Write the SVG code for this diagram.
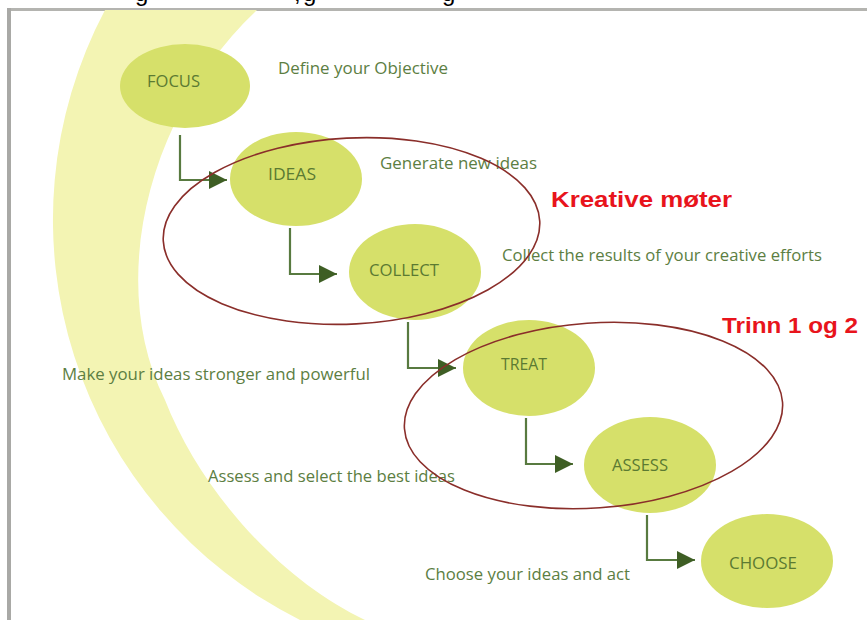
<svg xmlns="http://www.w3.org/2000/svg" width="867" height="620" viewBox="0 0 867 620">
  <style>
    .node-shape { fill: #d6e06a; }
    .node-label { font-family: "Open Sans", "Noto Sans", sans-serif; font-size: 16px; fill: #5b7a32; }
    .note { font-family: "Open Sans", "Noto Sans", sans-serif; font-size: 15.5px; fill: #5c7e42; }
    .tag { font-family: "Liberation Sans", Arial, sans-serif; font-size: 22px; font-weight: bold; fill: #e8141c; }
    .group-ring { fill: none; stroke: #8a2e2a; stroke-width: 1.6; }
    .link { fill: none; stroke: #587a40; stroke-width: 2.2; }
    .caption { font-family: "Liberation Sans", Arial, sans-serif; font-size: 24px; fill: #000; }
  </style>
  <defs>
    <marker id="head" viewBox="0 0 18 18" refX="18" refY="9" markerWidth="18" markerHeight="18" markerUnits="userSpaceOnUse" orient="auto">
      <path d="M0,0 L18,9 L0,18 Z" fill="#3e5e24"/>
    </marker>
    <clipPath id="frame">
      <rect x="11" y="10" width="856" height="610"/>
    </clipPath>
  </defs>

  <rect width="867" height="620" fill="#ffffff"/>

  <!-- descenders of the caption line above the figure -->
  <g id="caption-tail">
    <text class="caption" x="135" y="1">g</text>
    <text class="caption" x="294" y="1">,</text>
    <text class="caption" x="303" y="1">g</text>
    <text class="caption" x="442" y="1">g</text>
  </g>

  <!-- figure frame -->
  <g id="frame-border">
    <rect x="7" y="8" width="860" height="3" fill="#b4b4b0"/>
    <rect x="7" y="8" width="4" height="612" fill="#a9a9a6"/>
  </g>

  <!-- pale crescent swoosh -->
  <g id="swoosh" clip-path="url(#frame)">
    <path d="M105,10 A448,448 0 0 0 300,620 L365,620 C280,580 200,490 165,400 C105,280 150,110 257,10 Z" fill="#f3f4b3"/>
  </g>

  <!-- connectors -->
  <g id="connectors">
    <path class="link" d="M180,135 V180 H227" marker-end="url(#head)"/>
    <path class="link" d="M290,228 V274 H337" marker-end="url(#head)"/>
    <path class="link" d="M408,322 V368 H456" marker-end="url(#head)"/>
    <path class="link" d="M526,418 V464 H573" marker-end="url(#head)"/>
    <path class="link" d="M647,515 V560 H695" marker-end="url(#head)"/>
  </g>

  <!-- process steps -->
  <g id="focus">
    <ellipse class="node-shape" cx="185" cy="86" rx="65" ry="42"/>
    <text class="node-label" x="147" y="87" textLength="53" lengthAdjust="spacingAndGlyphs">FOCUS</text>
  </g>
  <g id="ideas">
    <ellipse class="node-shape" cx="296" cy="179" rx="66" ry="47"/>
    <text class="node-label" x="268" y="180" textLength="48" lengthAdjust="spacingAndGlyphs">IDEAS</text>
  </g>
  <g id="collect">
    <ellipse class="node-shape" cx="415" cy="272" rx="66" ry="48"/>
    <text class="node-label" x="369" y="276" textLength="70" lengthAdjust="spacingAndGlyphs">COLLECT</text>
  </g>
  <g id="treat">
    <ellipse class="node-shape" cx="529" cy="368" rx="66" ry="48"/>
    <text class="node-label" x="501" y="370" textLength="46" lengthAdjust="spacingAndGlyphs">TREAT</text>
  </g>
  <g id="assess">
    <ellipse class="node-shape" cx="650" cy="465" rx="66" ry="48"/>
    <text class="node-label" x="612" y="471" textLength="56" lengthAdjust="spacingAndGlyphs">ASSESS</text>
  </g>
  <g id="choose">
    <ellipse class="node-shape" cx="767" cy="561" rx="66" ry="47"/>
    <text class="node-label" x="729" y="569" textLength="68" lengthAdjust="spacingAndGlyphs">CHOOSE</text>
  </g>

  <!-- step descriptions -->
  <g id="descriptions">
    <text class="note" x="278" y="74" textLength="170" lengthAdjust="spacingAndGlyphs">Define your Objective</text>
    <text class="note" x="380" y="169" textLength="157" lengthAdjust="spacingAndGlyphs">Generate new ideas</text>
    <text class="note" x="502" y="261" textLength="320" lengthAdjust="spacingAndGlyphs">Collect the results of your creative efforts</text>
    <text class="note" x="62" y="380" textLength="308" lengthAdjust="spacingAndGlyphs">Make your ideas stronger and powerful</text>
    <text class="note" x="208" y="482" textLength="247" lengthAdjust="spacingAndGlyphs">Assess and select the best ideas</text>
    <text class="note" x="425" y="580" textLength="205" lengthAdjust="spacingAndGlyphs">Choose your ideas and act</text>
  </g>

  <!-- hand-drawn groupings -->
  <g id="ring-creative">
    <ellipse class="group-ring" cx="351.5" cy="231" rx="188.5" ry="93" transform="rotate(-3 351.5 231)"/>
    <text class="tag" x="551" y="207" textLength="181" lengthAdjust="spacingAndGlyphs">Kreative møter</text>
  </g>
  <g id="ring-steps">
    <ellipse class="group-ring" cx="593.5" cy="415.5" rx="189.5" ry="92.5" transform="rotate(-4 593.5 415.5)"/>
    <text class="tag" x="722" y="333" textLength="136" lengthAdjust="spacingAndGlyphs">Trinn 1 og 2</text>
  </g>
</svg>
